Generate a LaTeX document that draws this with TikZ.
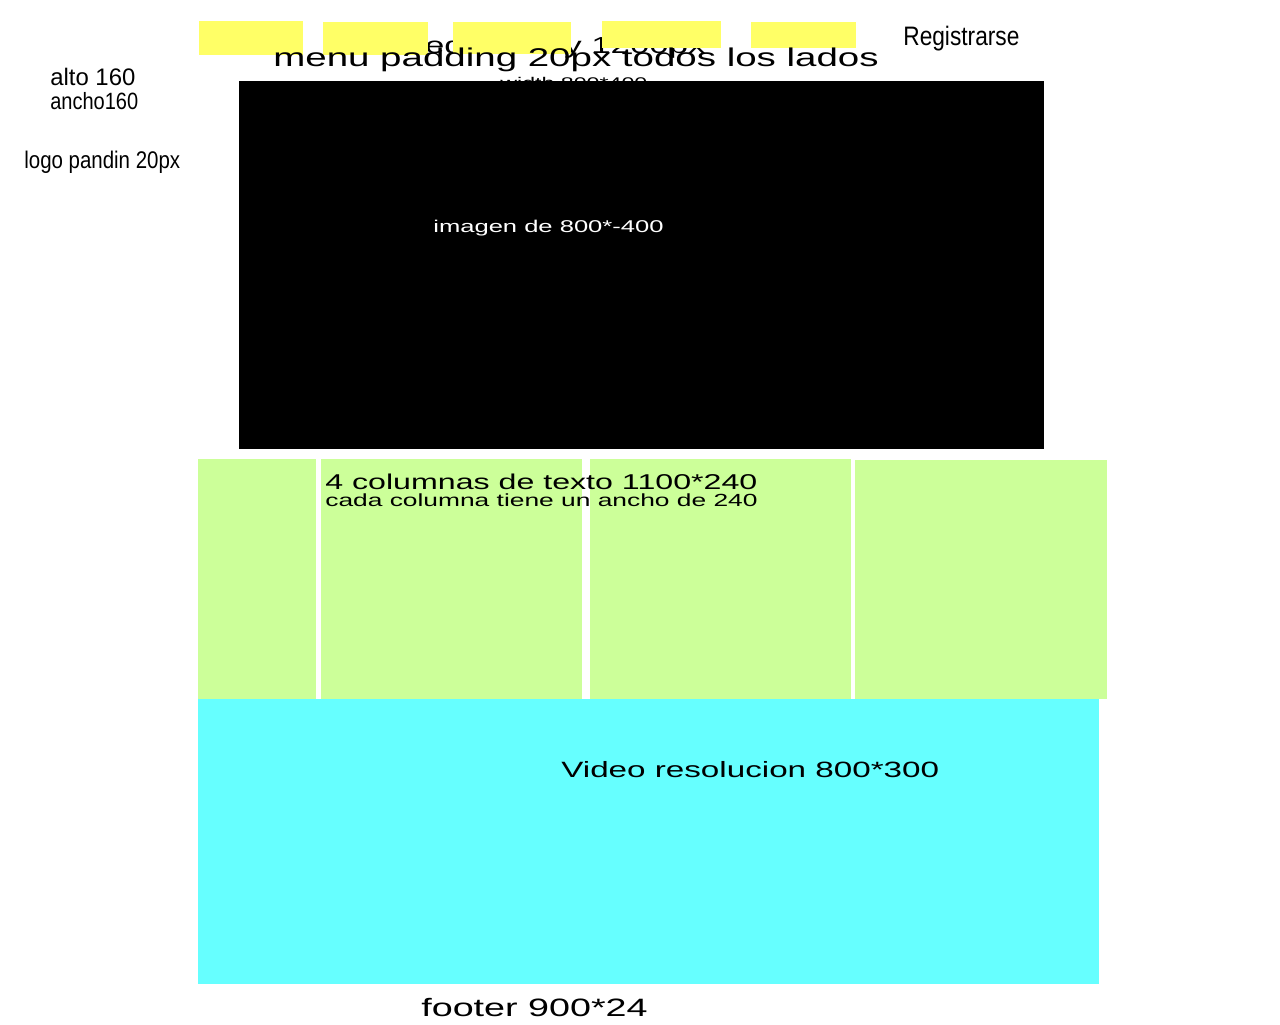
\documentclass[tikz,border=0pt]{standalone}
\usepackage{xcolor}
\usepackage{tikz}
\usepackage{fontspec}
\setmainfont{Liberation Sans}
\newfontfamily\widefont[FakeStretch=1.5]{Liberation Sans}
\newfontfamily\narrowfont[FakeStretch=0.85]{Liberation Sans}
\definecolor{menuyellow}{HTML}{FFFF66}
\definecolor{colgreen}{HTML}{CCFF99}
\definecolor{videocyan}{HTML}{66FFFF}
\begin{document}
\begin{tikzpicture}[x=0.02cm, y=-0.02cm,
    lbl/.style={inner sep=0pt, anchor=base west},
    menubox/.style={fill=menuyellow},
    colbox/.style={fill=colgreen}]
    \useasboundingbox (0,0) rectangle (1280,1024);
    % textos tapados
    \node[lbl, font={\widefont\fontsize{13.2}{15}\selectfont}] (fijo) at (390,54) {fixed size by 1200px};
    \node[lbl, font={\widefont\fontsize{8.8}{10}\selectfont}] (anchoimg) at (500,89) {width 800*400};
    % menu
    \fill[menubox] (199,21) rectangle (303,55);
    \fill[menubox] (323,22) rectangle (428,55);
    \fill[menubox] (453,22) rectangle (571,54);
    \fill[menubox] (602,21) rectangle (721,48);
    \fill[menubox] (751,22) rectangle (856,48);
    \node[lbl, font={\narrowfont\fontsize{15.2}{17}\selectfont}] (registro) at (903,46) {Registrarse};
    \node[lbl, font={\widefont\fontsize{14.6}{16}\selectfont}] (menu) at (273,67) {menu padding 20px todos los lados};
    % logo
    \node[lbl, font={\fontsize{13.6}{15}\selectfont}] (alto) at (50,86) {alto 160};
    \node[lbl, font={\narrowfont\fontsize{13.4}{15}\selectfont}] (ancho) at (50,110) {ancho160};
    \node[lbl, font={\narrowfont\fontsize{13.7}{15}\selectfont}] (logo) at (24,168) {logo pandin 20px};
    % imagen
    \fill[black] (239,81) rectangle (1044,449);
    \node[lbl, white, font={\widefont\fontsize{9.7}{11}\selectfont}] (imagen) at (433,232) {imagen de 800*-400};
    % columnas
    \fill[colbox] (198,459) rectangle (316,699);
    \fill[colbox] (321,459) rectangle (582,699);
    \fill[colbox] (590,459) rectangle (851,699);
    \fill[colbox] (855,460) rectangle (1107,699);
    \node[lbl, font={\widefont\fontsize{12.2}{14}\selectfont}] (cols) at (325,489) {4 columnas de texto 1100*240};
    \node[lbl, font={\widefont\fontsize{10}{12}\selectfont}] (cada) at (325,506) {cada columna tiene un ancho de 240};
    % video
    \fill[videocyan] (198,699) rectangle (1099,984);
    \node[lbl, font={\widefont\fontsize{12.6}{14}\selectfont}] (video) at (561,777) {Video resolucion 800*300};
    % footer
    \node[lbl, font={\widefont\fontsize{14.3}{16}\selectfont}] (footer) at (421,1016) {footer 900*24};
\end{tikzpicture}
\end{document}
